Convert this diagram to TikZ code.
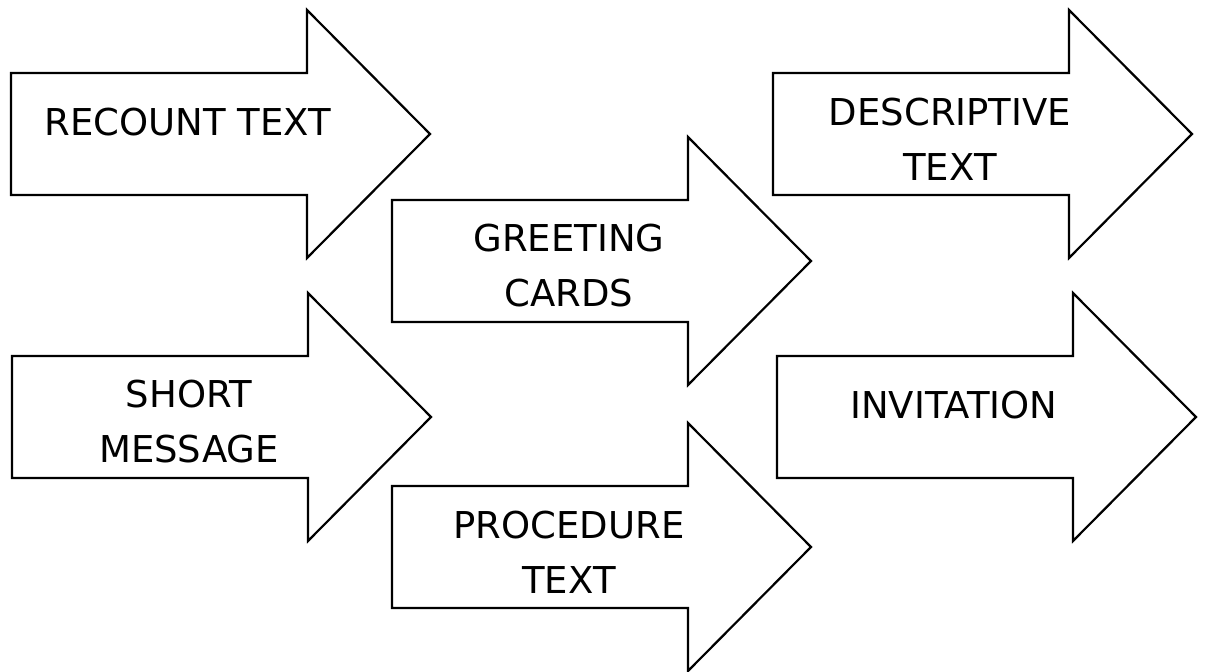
\documentclass[tikz,border=0pt]{standalone}
\usepackage{fontspec}
\setmainfont{DejaVu Sans}

\tikzset{
	arrowshape/.style={draw=black, line width=1.1pt, fill=white, line join=miter},
	arrowtext/.style={align=center, font=\fontsize{18.5}{27.5}\selectfont, inner sep=0pt}
}

\begin{document}
\begin{tikzpicture}[x=.5pt,y=-.5pt]
	\useasboundingbox (0,0) rectangle (1206,672);

	\foreach \x/\y/\name/\txt/\dy in {
		11/134/recount/{RECOUNT TEXT}/-12,
		392/261/greeting/{GREETING\\CARDS}/5,
		773/134/descriptive/{DESCRIPTIVE\\TEXT}/5,
		12/417/short/{SHORT\\MESSAGE}/5,
		392/547/procedure/{PROCEDURE\\TEXT}/5,
		777/417/invitation/{INVITATION}/-12
	}{
		\draw[arrowshape] (\x,\y-61) -- (\x+296,\y-61) -- (\x+296,\y-124)
			-- (\x+419,\y) -- (\x+296,\y+124) -- (\x+296,\y+61) -- (\x,\y+61) -- cycle;
		\node[arrowtext] (\name) at (\x+177,\y+\dy) {\txt};
	}
\end{tikzpicture}
\end{document}
